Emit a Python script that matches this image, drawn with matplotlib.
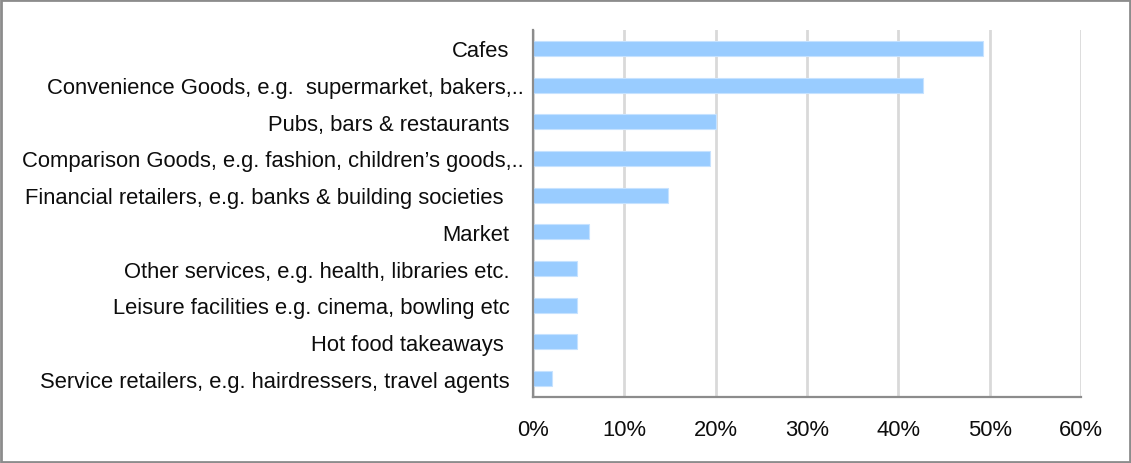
import matplotlib.pyplot as plt
import matplotlib.transforms as mtransforms
from matplotlib.patches import Rectangle
from matplotlib.ticker import PercentFormatter

# store types, listed top to bottom
categories = [
    "Cafes",
    "Convenience Goods, e.g.  supermarket, bakers,..",
    "Pubs, bars & restaurants",
    "Comparison Goods, e.g. fashion, children\u2019s goods,..",
    "Financial retailers, e.g. banks & building societies ",
    "Market",
    "Other services, e.g. health, libraries etc.",
    "Leisure facilities e.g. cinema, bowling etc",
    "Hot food takeaways ",
    "Service retailers, e.g. hairdressers, travel agents",
]
shares = [49.3, 42.7, 20.0, 19.4, 14.8, 6.1, 4.8, 4.8, 4.8, 2.1]
xticks = [0, 10, 20, 30, 40, 50, 60]

plt.rcParams['font.family'] = ['Liberation Sans', 'DejaVu Sans']

fig = plt.figure(figsize=(11.31, 4.64), dpi=100)
ax = fig.add_axes([0.4713, 0.1422, 0.4845, 0.791])

ypos = list(range(len(categories)))[::-1]
ax.barh(ypos, shares, height=0.41, color='#99CCFF', edgecolor='#C6E2FF',
        linewidth=0.8, zorder=3)

ax.set_xlim(0, 60)
ax.set_ylim(-0.5, len(categories) - 0.5)
ax.set_xticks(xticks)
ax.xaxis.set_major_formatter(PercentFormatter(decimals=0))
ax.set_yticks(ypos)
ax.set_yticklabels(categories)
ax.tick_params(axis='y', length=0, pad=17, labelsize=15.8, labelcolor='#0d0d0d')
ax.tick_params(axis='x', length=0, pad=16, labelsize=15.8, labelcolor='#0d0d0d')

# the two long labels run past the others toward the axis
for lab in ax.get_yticklabels():
    if lab.get_text().endswith(',..'):
        lab.set_transform(lab.get_transform() +
                          mtransforms.ScaledTranslation(14 / 100, 0, fig.dpi_scale_trans))

ax.grid(axis='x', color='#D9D9D9', linewidth=2, zorder=0)
ax.grid(axis='y', visible=False)
for side in ['top', 'right']:
    ax.spines[side].set_visible(False)
for side in ['left', 'bottom']:
    ax.spines[side].set_color('#8C8C8C')
    ax.spines[side].set_linewidth(1.6)
    ax.spines[side].set_zorder(4)

# outer frame
fig.patches.append(Rectangle((0.001, 0.002), 0.998, 0.995, transform=fig.transFigure,
                             fill=False, edgecolor='#8C8C8C', linewidth=2))

fig.savefig('out.png', dpi=100)
